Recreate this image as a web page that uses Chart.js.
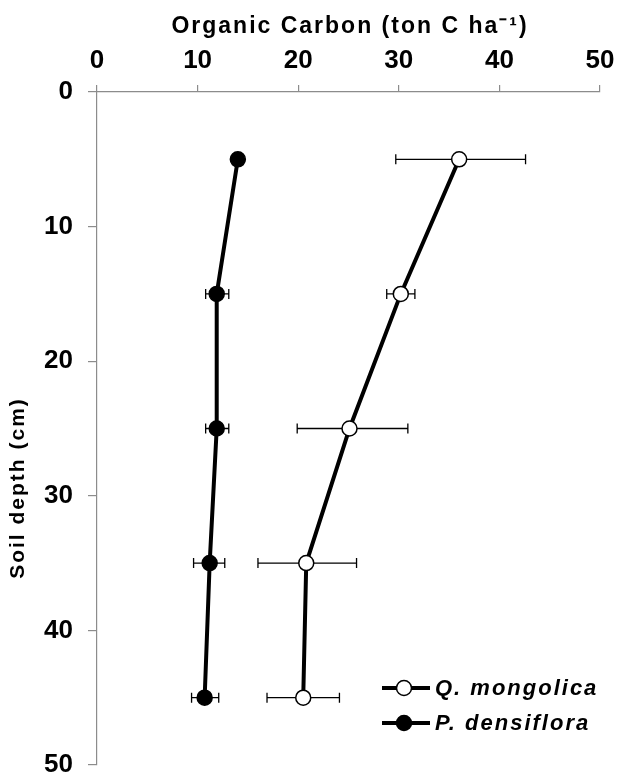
<!DOCTYPE html>
<html>
<head>
<meta charset="utf-8">
<script src="https://cdn.jsdelivr.net/npm/chart.js@4"></script>
<style>
  html, body { margin: 0; padding: 0; background: #fff; }
  #wrap { width: 618px; height: 779px; }
</style>
</head>
<body>
<div id="wrap"><canvas id="myChart" width="618" height="779"></canvas></div>
<script>
// soil depth (cm) of each sample layer
var depth = [5, 15, 25, 35, 45];
// Q. mongolica organic carbon (ton C ha-1) with error bar ends
var qMean = [36.0, 30.2, 25.1, 20.8, 20.5];
var qLow  = [29.7, 28.8, 19.9, 16.0, 16.9];
var qHigh = [42.6, 31.6, 30.9, 25.8, 24.1];
// P. densiflora
var pMean = [14.0, 11.9, 11.9, 11.2, 10.7];
var pLow  = [13.7, 10.8, 10.8, 9.6, 9.4];
var pHigh = [14.3, 13.1, 13.1, 12.7, 12.1];
// axis ticks
var xTicks = [0, 10, 20, 30, 40, 50];
var yTicks = [0, 10, 20, 30, 40, 50];

var FONT = "'Liberation Sans', Arial, sans-serif";

function pts(vals) {
  return vals.map(function (v, i) { return { x: v, y: depth[i] }; });
}

var errBars = {
  id: "errBars",
  beforeDatasetsDraw: function (chart) {
    var ctx = chart.ctx, xs = chart.scales.x, ys = chart.scales.y;
    var sets = [[qLow, qHigh], [pLow, pHigh]];
    ctx.save();
    ctx.strokeStyle = "#000";
    ctx.lineWidth = 1.3;
    sets.forEach(function (s) {
      depth.forEach(function (d, i) {
        var y = ys.getPixelForValue(d);
        var x1 = xs.getPixelForValue(s[0][i]);
        var x2 = xs.getPixelForValue(s[1][i]);
        ctx.beginPath();
        ctx.moveTo(x1, y); ctx.lineTo(x2, y);
        ctx.moveTo(x1, y - 5); ctx.lineTo(x1, y + 5);
        ctx.moveTo(x2, y - 5); ctx.lineTo(x2, y + 5);
        ctx.stroke();
      });
    });
    ctx.restore();
  },
  afterDraw: function (chart) {
    var ctx = chart.ctx;
    ctx.save();
    ctx.fillStyle = "#000";
    ctx.letterSpacing = "2px";
    // axis titles
    ctx.font = "bold 23px " + FONT;
    ctx.textAlign = "center";
    ctx.textBaseline = "middle";
    ctx.fillText("Organic Carbon (ton C ha\u207B\u00B9)", 350, 27);
    ctx.save();
    ctx.translate(18, 488);
    ctx.rotate(-Math.PI / 2);
    ctx.font = "bold 21px " + FONT;
    ctx.fillText("Soil depth (cm)", 0, 0);
    ctx.restore();
    // legend in the lower right corner
    var items = [
      { label: "Q. mongolica", fill: "#fff", y: 688 },
      { label: "P. densiflora", fill: "#000", y: 723 }
    ];
    ctx.textAlign = "left";
    items.forEach(function (it) {
      ctx.strokeStyle = "#000";
      ctx.lineWidth = 4;
      ctx.beginPath();
      ctx.moveTo(382, it.y); ctx.lineTo(430, it.y);
      ctx.stroke();
      ctx.beginPath();
      ctx.arc(404, it.y, 7.5, 0, Math.PI * 2);
      ctx.fillStyle = it.fill;
      ctx.fill();
      ctx.lineWidth = 1.5;
      ctx.stroke();
      ctx.fillStyle = "#000";
      ctx.font = "italic bold 22px " + FONT;
      ctx.fillText(it.label, 435, it.y + 1);
    });
    ctx.restore();
  }
};

var tickFont = { family: FONT, size: 26, weight: "bold", lineHeight: 1 };

var ctx = document.getElementById("myChart").getContext("2d");
var myChart = new Chart(ctx, {
  type: "scatter",
  data: {
    datasets: [
      {
        label: "Q. mongolica",
        data: pts(qMean),
        showLine: true,
        borderColor: "#000",
        borderWidth: 4,
        pointRadius: 7.5,
        pointBackgroundColor: "#fff",
        pointBorderColor: "#000",
        pointBorderWidth: 1.5
      },
      {
        label: "P. densiflora",
        data: pts(pMean),
        showLine: true,
        borderColor: "#000",
        borderWidth: 4,
        pointRadius: 7.5,
        pointBackgroundColor: "#000",
        pointBorderColor: "#000",
        pointBorderWidth: 1.5
      }
    ]
  },
  options: {
    responsive: false,
    animation: false,
    layout: { padding: { top: 0, right: 18, bottom: 14, left: 0 } },
    plugins: { legend: { display: false }, tooltip: { enabled: false } },
    scales: {
      x: {
        type: "linear",
        position: "top",
        min: 0, max: 50,
        afterBuildTicks: function (ax) { ax.ticks = xTicks.map(function (v) { return { value: v }; }); },
        afterFit: function (ax) { ax.height = 92; ax.paddingLeft = 0; ax.paddingRight = 0; },
        grid: { drawOnChartArea: false, drawTicks: true, tickLength: 7, color: "#8c8c8c", lineWidth: 1.2 },
        border: { color: "#8c8c8c", width: 1.2 },
        ticks: { color: "#000", font: tickFont, padding: 11, maxRotation: 0 }
      },
      y: {
        type: "linear",
        reverse: true,
        min: 0, max: 50,
        afterBuildTicks: function (ax) { ax.ticks = yTicks.map(function (v) { return { value: v }; }); },
        afterFit: function (ax) { ax.width = 97; ax.paddingTop = 0; ax.paddingBottom = 0; },
        grid: { drawOnChartArea: false, drawTicks: true, tickLength: 9, color: "#8c8c8c", lineWidth: 1.2 },
        border: { color: "#8c8c8c", width: 1.2 },
        ticks: { color: "#000", font: tickFont, padding: 15 }
      }
    }
  },
  plugins: [errBars]
});
</script>
</body>
</html>
